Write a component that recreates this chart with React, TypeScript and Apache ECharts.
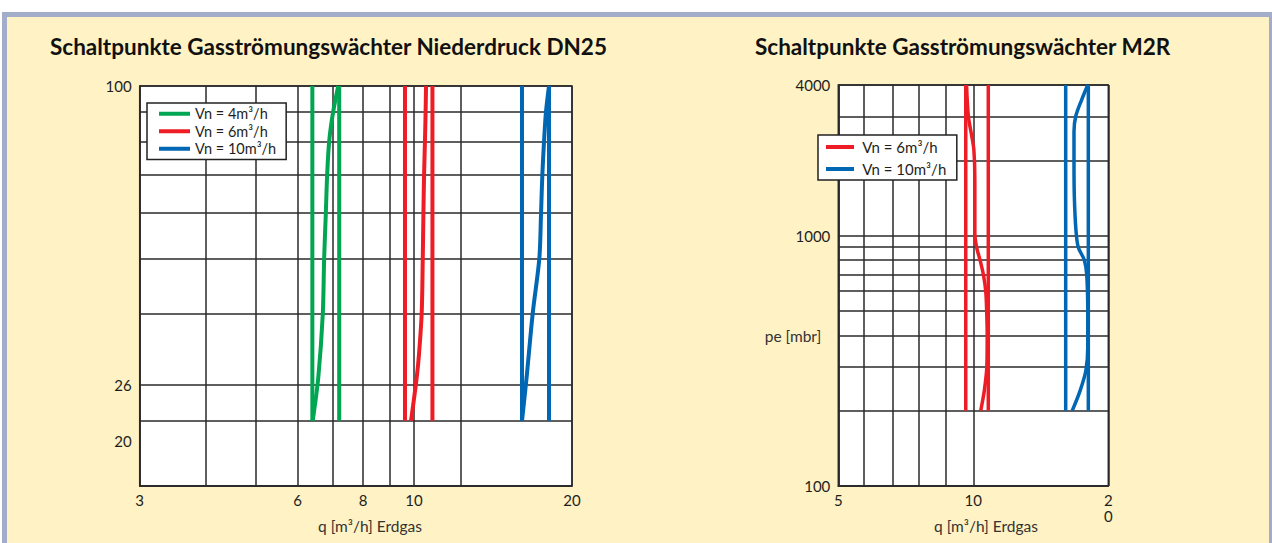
import React, { useEffect, useRef } from "react";
import * as echarts from "echarts";

// ---------- data ----------
const NAME_4 = "Vn = 4m³/h";
const NAME_6 = "Vn = 6m³/h";
const NAME_10 = "Vn = 10m³/h";

// Left chart (Niederdruck DN25): q [m³/h] on x, pressure on y
const LEFT_X_GRID = [3, 4, 5, 6, 7, 8, 9, 10, 12.3, 20];
const LEFT_X_LABEL_VALUES = [3, 6, 8, 10, 20];
const LEFT_X_LABELS = ["3", "6", "8", "10", "20"];
const LEFT_Y_GRID = [100, 90, 80, 70, 60, 50, 40, 30, 26, 20];
const LEFT_Y_LABEL_VALUES = [100, 30, 24];
const LEFT_Y_LABELS = ["100", "26", "20"];
const LEFT_P_RANGE = [100, 26];

const GREEN_MIN_Q = 6.4;
const GREEN_MAX_Q = 7.2;
const GREEN_CURVE_P = [100, 90, 80, 70, 60, 50, 40, 31, 26];
const GREEN_CURVE_Q = [7.17, 7.01, 6.89, 6.83, 6.79, 6.74, 6.7, 6.57, 6.41];

const RED_MIN_Q = 9.61;
const RED_MAX_Q = 10.84;
const RED_CURVE_P = [100, 90, 80, 70, 60, 50, 40, 34, 31, 26];
const RED_CURVE_Q = [10.54, 10.52, 10.49, 10.45, 10.42, 10.39, 10.34, 10.22, 10.12, 9.87];

const BLUE_MIN_Q = 16.06;
const BLUE_MAX_Q = 18.08;
const BLUE_CURVE_P = [100, 90, 80, 70, 60, 50, 40, 31, 26];
const BLUE_CURVE_Q = [18.08, 17.84, 17.69, 17.56, 17.46, 17.33, 16.83, 16.39, 16.06];

// Right chart (M2R)
const RIGHT_X_GRID = [5, 5.7, 6.6, 7.57, 8.68, 10, 20];
const RIGHT_X_LABEL_VALUES = [5, 10, 20];
const RIGHT_X_LABELS = ["5", "10", "2\n0"];
const RIGHT_Y_GRID = [4000, 3000, 2000, 1000, 900, 800, 700, 600, 500, 400, 300, 200, 100];
const RIGHT_Y_LABEL_VALUES = [4000, 1000, 100];
const RIGHT_Y_LABELS = ["4000", "1000", "100"];
const RIGHT_P_RANGE = [4000, 200];

const RED2_MIN_Q = 9.62;
const RED2_MAX_Q = 10.8;
const RED2_CURVE_P = [4000, 3000, 2500, 2200, 1670, 1025, 900, 800, 700, 600, 500, 400, 300, 240, 200];
const RED2_CURVE_Q = [9.66, 9.75, 9.92, 10.03, 10.08, 10.08, 10.17, 10.35, 10.53, 10.66, 10.71, 10.74, 10.72, 10.58, 10.39];

const BLUE2_MIN_Q = 16.07;
const BLUE2_MAX_Q = 18.05;
const BLUE2_CURVE_P = [4000, 3500, 3000, 2600, 1950, 1430, 1050, 900, 800, 700, 490, 360, 290, 240, 200];
const BLUE2_CURVE_Q = [18.0, 17.45, 16.92, 16.77, 16.77, 16.8, 16.94, 17.14, 17.68, 17.9, 18.0, 18.0, 17.83, 17.3, 16.62];

// ---------- styles ----------
const GREEN = "#00a651";
const RED = "#ee1c25";
const BLUE = "#0067b4";
const GRID_LINE = "#2a2a2a";
const FONT = "Lato";
const TEXT = "#1e1e1e";

function nearestLabel(values: number[], labels: string[]) {
  return (v: number) => {
    let best = 0;
    let bd = Infinity;
    values.forEach((t, i) => {
      const d = Math.abs(Math.log(v) - Math.log(t));
      if (d < bd) {
        bd = d;
        best = i;
      }
    });
    return labels[best];
  };
}

function zipQP(q: number[], p: number[]) {
  return q.map((x, i) => [x, p[i]]);
}

function vertical(q: number, range: number[]) {
  return range.map((p) => [q, p]);
}

function lineSeries(name: string, color: string, data: number[][], idx: number, width: number, smooth: number | boolean) {
  return {
    type: "line",
    name,
    xAxisIndex: idx,
    yAxisIndex: idx,
    data,
    symbol: "none",
    showSymbol: false,
    smooth,
    itemStyle: { color },
    lineStyle: { color, width },
    z: 5,
  };
}

function logAxis(gridIndex: number, min: number, max: number, grid: number[], labelValues: number[], labels: string[], extra: any) {
  return {
    type: "log",
    logBase: 10,
    gridIndex,
    min,
    max,
    axisLine: { show: true, lineStyle: { color: GRID_LINE, width: 1.5 } },
    axisTick: { show: false, customValues: grid },
    splitLine: { show: true, lineStyle: { color: GRID_LINE, width: 1.5 } },
    axisLabel: {
      customValues: labelValues,
      formatter: nearestLabel(labelValues, labels),
      fontFamily: FONT,
      fontSize: 15,
      color: TEXT,
      ...extra,
    },
  };
}

export default function App() {
  const ref = useRef<HTMLDivElement>(null);

  useEffect(() => {
    if (!ref.current) return;
    const chart = echarts.init(ref.current, undefined, { renderer: "svg" });

    const legendCommon = {
      orient: "vertical",
      backgroundColor: "#fff",
      borderColor: "#222",
      borderWidth: 1.5,
      borderRadius: 0,
      icon: "rect",
      itemHeight: 4,
      selectedMode: false,
    };

    const titleStyle = { fontFamily: FONT, fontWeight: "bold", fontSize: 22.5, color: "#111" };

    const option: any = {
      animation: false,
      backgroundColor: "#fff",
      title: [
        {
          text: "Schaltpunkte Gasströmungswächter Niederdruck DN25",
          left: 50,
          top: 35,
          padding: 0,
          textStyle: titleStyle,
        },
        {
          text: "Schaltpunkte Gasströmungswächter M2R",
          left: 755,
          top: 35,
          padding: 0,
          textStyle: titleStyle,
        },
      ],
      graphic: [
        { type: "rect", z: -100, silent: true, shape: { x: 2, y: 12, width: 1270, height: 531 }, style: { fill: "#a3adca" } },
        { type: "rect", z: -99, silent: true, shape: { x: 7, y: 17, width: 1262, height: 526 }, style: { fill: "#fff2c4" } },
        {
          type: "text", z: 100, x: 370, y: 526,
          style: { text: "q [m³/h] Erdgas", align: "center", verticalAlign: "middle", font: `15.5px ${FONT}`, fill: "#333" },
        },
        {
          type: "text", z: 100, x: 986, y: 526,
          style: { text: "q [m³/h] Erdgas", align: "center", verticalAlign: "middle", font: `15.5px ${FONT}`, fill: "#333" },
        },
        {
          type: "text", z: 100, x: 793, y: 336,
          style: { text: "pe [mbr]", align: "center", verticalAlign: "middle", font: `15.5px ${FONT}`, fill: "#333" },
        },
      ],
      legend: [
        {
          ...legendCommon,
          data: [NAME_4, NAME_6, NAME_10],
          left: 147,
          top: 103,
          padding: [2, 10, 2, 12],
          itemGap: 0,
          itemWidth: 31,
          textStyle: { fontFamily: FONT, fontSize: 14.5, lineHeight: 17.5, color: TEXT },
        },
        {
          ...legendCommon,
          data: [NAME_6, NAME_10],
          left: 818,
          top: 135,
          padding: [4, 10, 3, 8],
          itemGap: 6,
          itemWidth: 28,
          formatter: " {name}",
          textStyle: { fontFamily: FONT, fontSize: 15, lineHeight: 16, color: TEXT },
        },
      ],
      grid: [
        { left: 139.7, top: 86, width: 432.3, height: 400, show: true, backgroundColor: "#fff", borderColor: GRID_LINE, borderWidth: 1.5 },
        { left: 838.3, top: 85, width: 270, height: 401, show: true, backgroundColor: "#fff", borderColor: GRID_LINE, borderWidth: 1.5 },
      ],
      xAxis: [
        logAxis(0, 3, 20, LEFT_X_GRID, LEFT_X_LABEL_VALUES, LEFT_X_LABELS, { margin: 6 }),
        logAxis(1, 5, 20, RIGHT_X_GRID, RIGHT_X_LABEL_VALUES, RIGHT_X_LABELS, { margin: 6, lineHeight: 16 }),
      ],
      yAxis: [
        logAxis(0, 20, 100, LEFT_Y_GRID, LEFT_Y_LABEL_VALUES, LEFT_Y_LABELS, { margin: 8 }),
        logAxis(1, 100, 4000, RIGHT_Y_GRID, RIGHT_Y_LABEL_VALUES, RIGHT_Y_LABELS, { margin: 8 }),
      ],
      series: [
        lineSeries(NAME_4, GREEN, vertical(GREEN_MIN_Q, LEFT_P_RANGE), 0, 4, false),
        lineSeries(NAME_4, GREEN, zipQP(GREEN_CURVE_Q, GREEN_CURVE_P), 0, 4, 0.3),
        lineSeries(NAME_4, GREEN, vertical(GREEN_MAX_Q, LEFT_P_RANGE), 0, 4, false),
        lineSeries(NAME_6, RED, vertical(RED_MIN_Q, LEFT_P_RANGE), 0, 4, false),
        lineSeries(NAME_6, RED, zipQP(RED_CURVE_Q, RED_CURVE_P), 0, 4, 0.3),
        lineSeries(NAME_6, RED, vertical(RED_MAX_Q, LEFT_P_RANGE), 0, 4, false),
        lineSeries(NAME_10, BLUE, vertical(BLUE_MIN_Q, LEFT_P_RANGE), 0, 4, false),
        lineSeries(NAME_10, BLUE, zipQP(BLUE_CURVE_Q, BLUE_CURVE_P), 0, 4, 0.3),
        lineSeries(NAME_10, BLUE, vertical(BLUE_MAX_Q, LEFT_P_RANGE), 0, 4, false),
        lineSeries(NAME_6, RED, vertical(RED2_MIN_Q, RIGHT_P_RANGE), 1, 3.5, false),
        lineSeries(NAME_6, RED, zipQP(RED2_CURVE_Q, RED2_CURVE_P), 1, 3.5, 0.3),
        lineSeries(NAME_6, RED, vertical(RED2_MAX_Q, RIGHT_P_RANGE), 1, 3.5, false),
        lineSeries(NAME_10, BLUE, vertical(BLUE2_MIN_Q, RIGHT_P_RANGE), 1, 3.5, false),
        lineSeries(NAME_10, BLUE, zipQP(BLUE2_CURVE_Q, BLUE2_CURVE_P), 1, 3.5, 0.3),
        lineSeries(NAME_10, BLUE, vertical(BLUE2_MAX_Q, RIGHT_P_RANGE), 1, 3.5, false),
      ],
    };

    chart.setOption(option);
    return () => chart.dispose();
  }, []);

  return (
    <div
      ref={ref}
      style={{ position: "fixed", left: 0, top: 0, width: 1272, height: 543, background: "#fff" }}
    />
  );
}
